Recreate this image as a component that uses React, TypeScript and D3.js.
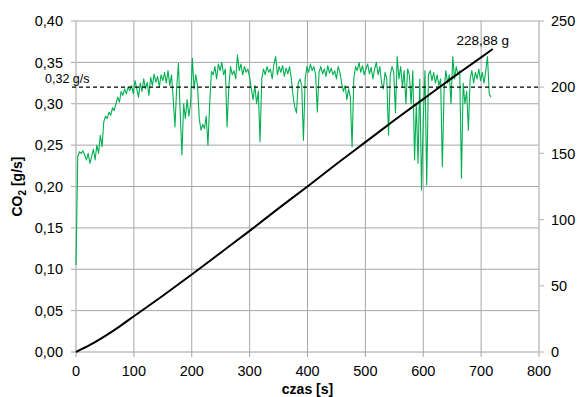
import React from "react";
import * as d3 from "d3";

const W = 579;
const H = 397;

const xTicks = [0, 100, 200, 300, 400, 500, 600, 700, 800];
const yLeftTicks = [0, 0.05, 0.1, 0.15, 0.2, 0.25, 0.3, 0.35, 0.4];
const yRightTicks = [0, 50, 100, 150, 200, 250];

const co2Step = 3; // sampling interval [s]
const co2Rate = [
  0.105, 0.236, 0.242, 0.24, 0.243, 0.238, 0.232, 0.24, 0.228, 0.236,
  0.245, 0.232, 0.25, 0.24, 0.262, 0.248, 0.278, 0.285, 0.282, 0.29,
  0.286, 0.295, 0.292, 0.3, 0.308, 0.302, 0.315, 0.31, 0.318, 0.312,
  0.32, 0.316, 0.322, 0.312, 0.328, 0.318, 0.308, 0.325, 0.315, 0.33,
  0.318, 0.326, 0.31, 0.332, 0.322, 0.336, 0.326, 0.333, 0.32, 0.335,
  0.328, 0.338, 0.325, 0.34, 0.322, 0.335, 0.305, 0.272, 0.32, 0.349,
  0.29, 0.238, 0.3, 0.282, 0.305, 0.285, 0.3, 0.355, 0.318, 0.335,
  0.322, 0.282, 0.268, 0.275, 0.27, 0.285, 0.25, 0.3, 0.339, 0.335,
  0.345, 0.33, 0.348, 0.34, 0.35, 0.335, 0.342, 0.272, 0.32, 0.345,
  0.335, 0.34, 0.33, 0.359, 0.34, 0.348, 0.335, 0.345, 0.338, 0.342,
  0.332, 0.318, 0.305, 0.322, 0.3, 0.315, 0.254, 0.33, 0.342, 0.335,
  0.345, 0.338, 0.342, 0.33, 0.348, 0.357, 0.335, 0.345, 0.338, 0.346,
  0.333, 0.343, 0.336, 0.345, 0.33, 0.31, 0.296, 0.289, 0.325, 0.33,
  0.322, 0.256, 0.33, 0.345, 0.338, 0.348, 0.34, 0.345, 0.335, 0.29,
  0.338, 0.345, 0.336, 0.342, 0.333, 0.346, 0.337, 0.343, 0.335, 0.34,
  0.33, 0.345, 0.338, 0.325, 0.315, 0.322, 0.305, 0.318, 0.308, 0.248,
  0.33, 0.345, 0.34, 0.35, 0.338, 0.346, 0.335, 0.342, 0.348, 0.336,
  0.344, 0.33, 0.342, 0.35, 0.335, 0.345, 0.325, 0.318, 0.338, 0.33,
  0.262, 0.335, 0.345, 0.338, 0.289, 0.357, 0.33, 0.345, 0.32, 0.34,
  0.3, 0.342, 0.335, 0.3, 0.34, 0.232, 0.3, 0.228, 0.33, 0.196,
  0.28, 0.34, 0.202, 0.335, 0.34, 0.328, 0.338, 0.325, 0.335, 0.322,
  0.33, 0.224, 0.315, 0.34, 0.325, 0.335, 0.3, 0.357, 0.33, 0.345,
  0.335, 0.34, 0.21, 0.325, 0.3, 0.315, 0.268, 0.33, 0.34, 0.325,
  0.338, 0.33, 0.342, 0.328, 0.338, 0.325, 0.34, 0.357, 0.312, 0.308,
];

const cumTime = [0, 25, 50, 75, 100, 150, 200, 250, 300, 350, 400, 450, 500, 550, 600, 650, 700, 720];
const cumMass = [0, 5.5, 12, 19.2, 27, 42.5, 58.5, 75, 91.5, 108.5, 125, 142, 158.5, 175, 191, 207, 222.5, 228.88];

const avgRate = 0.32;
const avgLabel = "0,32 g/s";
const totalLabel = "228,88 g";

const margin = { left: 76, right: 40, top: 21, bottom: 45 };

const fmt2 = (v: number) => v.toFixed(2).replace(".", ",");

export default function App() {
  const x = d3.scaleLinear().domain([0, 800]).range([margin.left, W - margin.right]);
  const yL = d3.scaleLinear().domain([0, 0.4]).range([H - margin.bottom, margin.top]);
  const yR = d3.scaleLinear().domain([0, 250]).range([H - margin.bottom, margin.top]);

  const rateLine = d3
    .line<number>()
    .x((_, i) => x(i * co2Step))
    .y((d) => yL(d));
  const cumLine = d3
    .line<number>()
    .x((_, i) => x(cumTime[i]))
    .y((d) => yR(d))
    .curve(d3.curveCatmullRom);

  const font = "'Liberation Sans', Arial, sans-serif";
  const gridColor = "#a6a6a6";
  const axisColor = "#bfbfbf";
  const x0 = x(0);
  const x1 = x(800);
  const yb = yL(0);
  const yt = yL(0.4);
  const tickFs = 14.5;

  return (
    <svg width={W} height={H} style={{ position: "absolute", left: 0, top: 0 }} fontFamily={font}>
      <rect width={W} height={H} fill="#fff" />
      {yLeftTicks.map((t) => (
        <line key={"h" + t} x1={x0 - 5} x2={x1} y1={yL(t)} y2={yL(t)} stroke={t === 0 ? axisColor : gridColor} strokeWidth={t === 0 ? 1.5 : 1} />
      ))}
      {xTicks.map((t) => (
        <line key={"v" + t} x1={x(t)} x2={x(t)} y1={yt} y2={yb + 5} stroke={t === 0 || t === 800 ? axisColor : gridColor} strokeWidth={t === 0 || t === 800 ? 1.5 : 1} />
      ))}
      {yRightTicks.map((t) => (
        <line key={"r" + t} x1={x1} x2={x1 + 5} y1={yR(t)} y2={yR(t)} stroke={axisColor} strokeWidth={1.2} />
      ))}
      {yLeftTicks.map((t) => (
        <text key={"lt" + t} x={x0 - 13} y={yL(t)} dy="0.36em" textAnchor="end" fontSize={tickFs} fill="#000">
          {fmt2(t)}
        </text>
      ))}
      {yRightTicks.map((t) => (
        <text key={"rt" + t} x={x1 + 12} y={yR(t)} dy="0.36em" textAnchor="start" fontSize={tickFs} fill="#000">
          {t}
        </text>
      ))}
      {xTicks.map((t) => (
        <text key={"xt" + t} x={x(t)} y={yb + 24} textAnchor="middle" fontSize={tickFs} fill="#000">
          {t}
        </text>
      ))}
      <text x={(x0 + x1) / 2} y={H - 3} textAnchor="middle" fontSize={14} fontWeight="bold">
        czas [s]
      </text>
      <text transform={`translate(22,${(yt + yb) / 2}) rotate(-90)`} textAnchor="middle" fontSize={14} fontWeight="bold">
        CO<tspan fontSize={10} dy="4">2</tspan>
        <tspan dy="-4"> [g/s]</tspan>
      </text>
      <path d={rateLine(co2Rate) || ""} fill="none" stroke="#00b050" strokeWidth={1.1} strokeLinejoin="round" />
      <line x1={x0 - 4} x2={x1 + 2} y1={yL(avgRate)} y2={yL(avgRate)} stroke="#000" strokeWidth={1.2} strokeDasharray="4,3" />
      <path d={cumLine(cumMass) || ""} fill="none" stroke="#000" strokeWidth={2} />
      <text x={45} y={yL(avgRate) - 4} fontSize={12.5} fill="#000">
        {avgLabel}
      </text>
      <text x={x(cumTime[cumTime.length - 1]) - 10} y={yR(cumMass[cumMass.length - 1]) - 4} textAnchor="middle" fontSize={13.5} fill="#000">
        {totalLabel}
      </text>
    </svg>
  );
}
